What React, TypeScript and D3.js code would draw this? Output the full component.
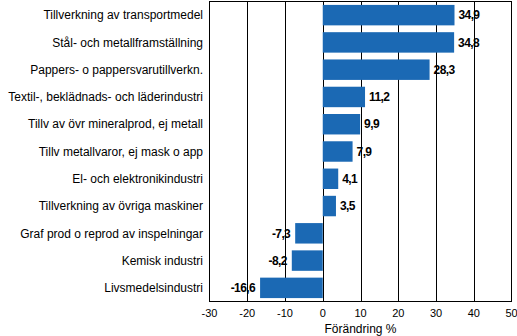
import React from "react";
import * as d3 from "d3";

const categories = [
  "Tillverkning av transportmedel",
  "Stål- och metallframställning",
  "Pappers- o pappersvarutillverkn.",
  "Textil-, beklädnads- och läderindustri",
  "Tillv av övr mineralprod, ej metall",
  "Tillv metallvaror, ej mask o app",
  "El- och elektronikindustri",
  "Tillverkning av övriga maskiner",
  "Graf prod o reprod av inspelningar",
  "Kemisk industri",
  "Livsmedelsindustri",
];
const values = [34.9, 34.8, 28.3, 11.2, 9.9, 7.9, 4.1, 3.5, -7.3, -8.2, -16.6];
const ticks = [-30, -20, -10, 0, 10, 20, 30, 40, 50];
const axisTitle = "Förändring %";

const W = 517;
const H = 336;
const left = 209.5;
const right = 511.5;
const top = 1.5;
const bottom = 301.5;

export default function App() {
  const x = d3.scaleLinear().domain([-30, 50]).range([left, right]);
  const y = d3.scaleBand<string>().domain(categories).range([top, bottom]).paddingInner(0.25).paddingOuter(0.125);
  const fmt = (v: number) => v.toFixed(1).replace(".", ",");
  const font = "'Liberation Sans', Arial, sans-serif";
  return (
    <svg width={W} height={H} style={{ position: "absolute", left: 0, top: 0, background: "#fff" }}>
      <rect x={0} y={0} width={W} height={H} fill="#fff" />
      {ticks.slice(1, -1).map((t) => (
        <line key={t} x1={Math.round(x(t)) + 0.5} x2={Math.round(x(t)) + 0.5} y1={top} y2={bottom} stroke="#000" strokeWidth={1} />
      ))}
      {categories.map((c, i) => {
        const v = values[i];
        const x0 = x(Math.min(0, v));
        const w = Math.abs(x(v) - x(0));
        return <rect key={c} x={x0} y={y(c)} width={w} height={y.bandwidth()} fill="#1B69B4" />;
      })}
      <rect x={left} y={top} width={right - left} height={bottom - top} fill="none" stroke="#000" strokeWidth={1} />
      {categories.map((c) => (
        <text key={c} x={203} y={(y(c) as number) + y.bandwidth() / 2} dy="0.35em" textAnchor="end" fontFamily={font} fontSize={12} fill="#000">
          {c}
        </text>
      ))}
      {categories.map((c, i) => {
        const v = values[i];
        return (
          <text
            key={c}
            x={v >= 0 ? x(v) + 4 : x(v) - 5}
            y={(y(c) as number) + y.bandwidth() / 2}
            dy="0.35em"
            textAnchor={v >= 0 ? "start" : "end"}
            fontFamily={font}
            fontSize={12}
            fontWeight="bold"
            letterSpacing={-0.6}
            fill="#000"
          >
            {fmt(v)}
          </text>
        );
      })}
      {ticks.map((t) => (
        <text key={t} x={x(t)} y={317} textAnchor="middle" fontFamily={font} fontSize={11} fill="#000">
          {t}
        </text>
      ))}
      <text x={x(10)} y={333} textAnchor="middle" fontFamily={font} fontSize={12} fill="#000">
        {axisTitle}
      </text>
    </svg>
  );
}
